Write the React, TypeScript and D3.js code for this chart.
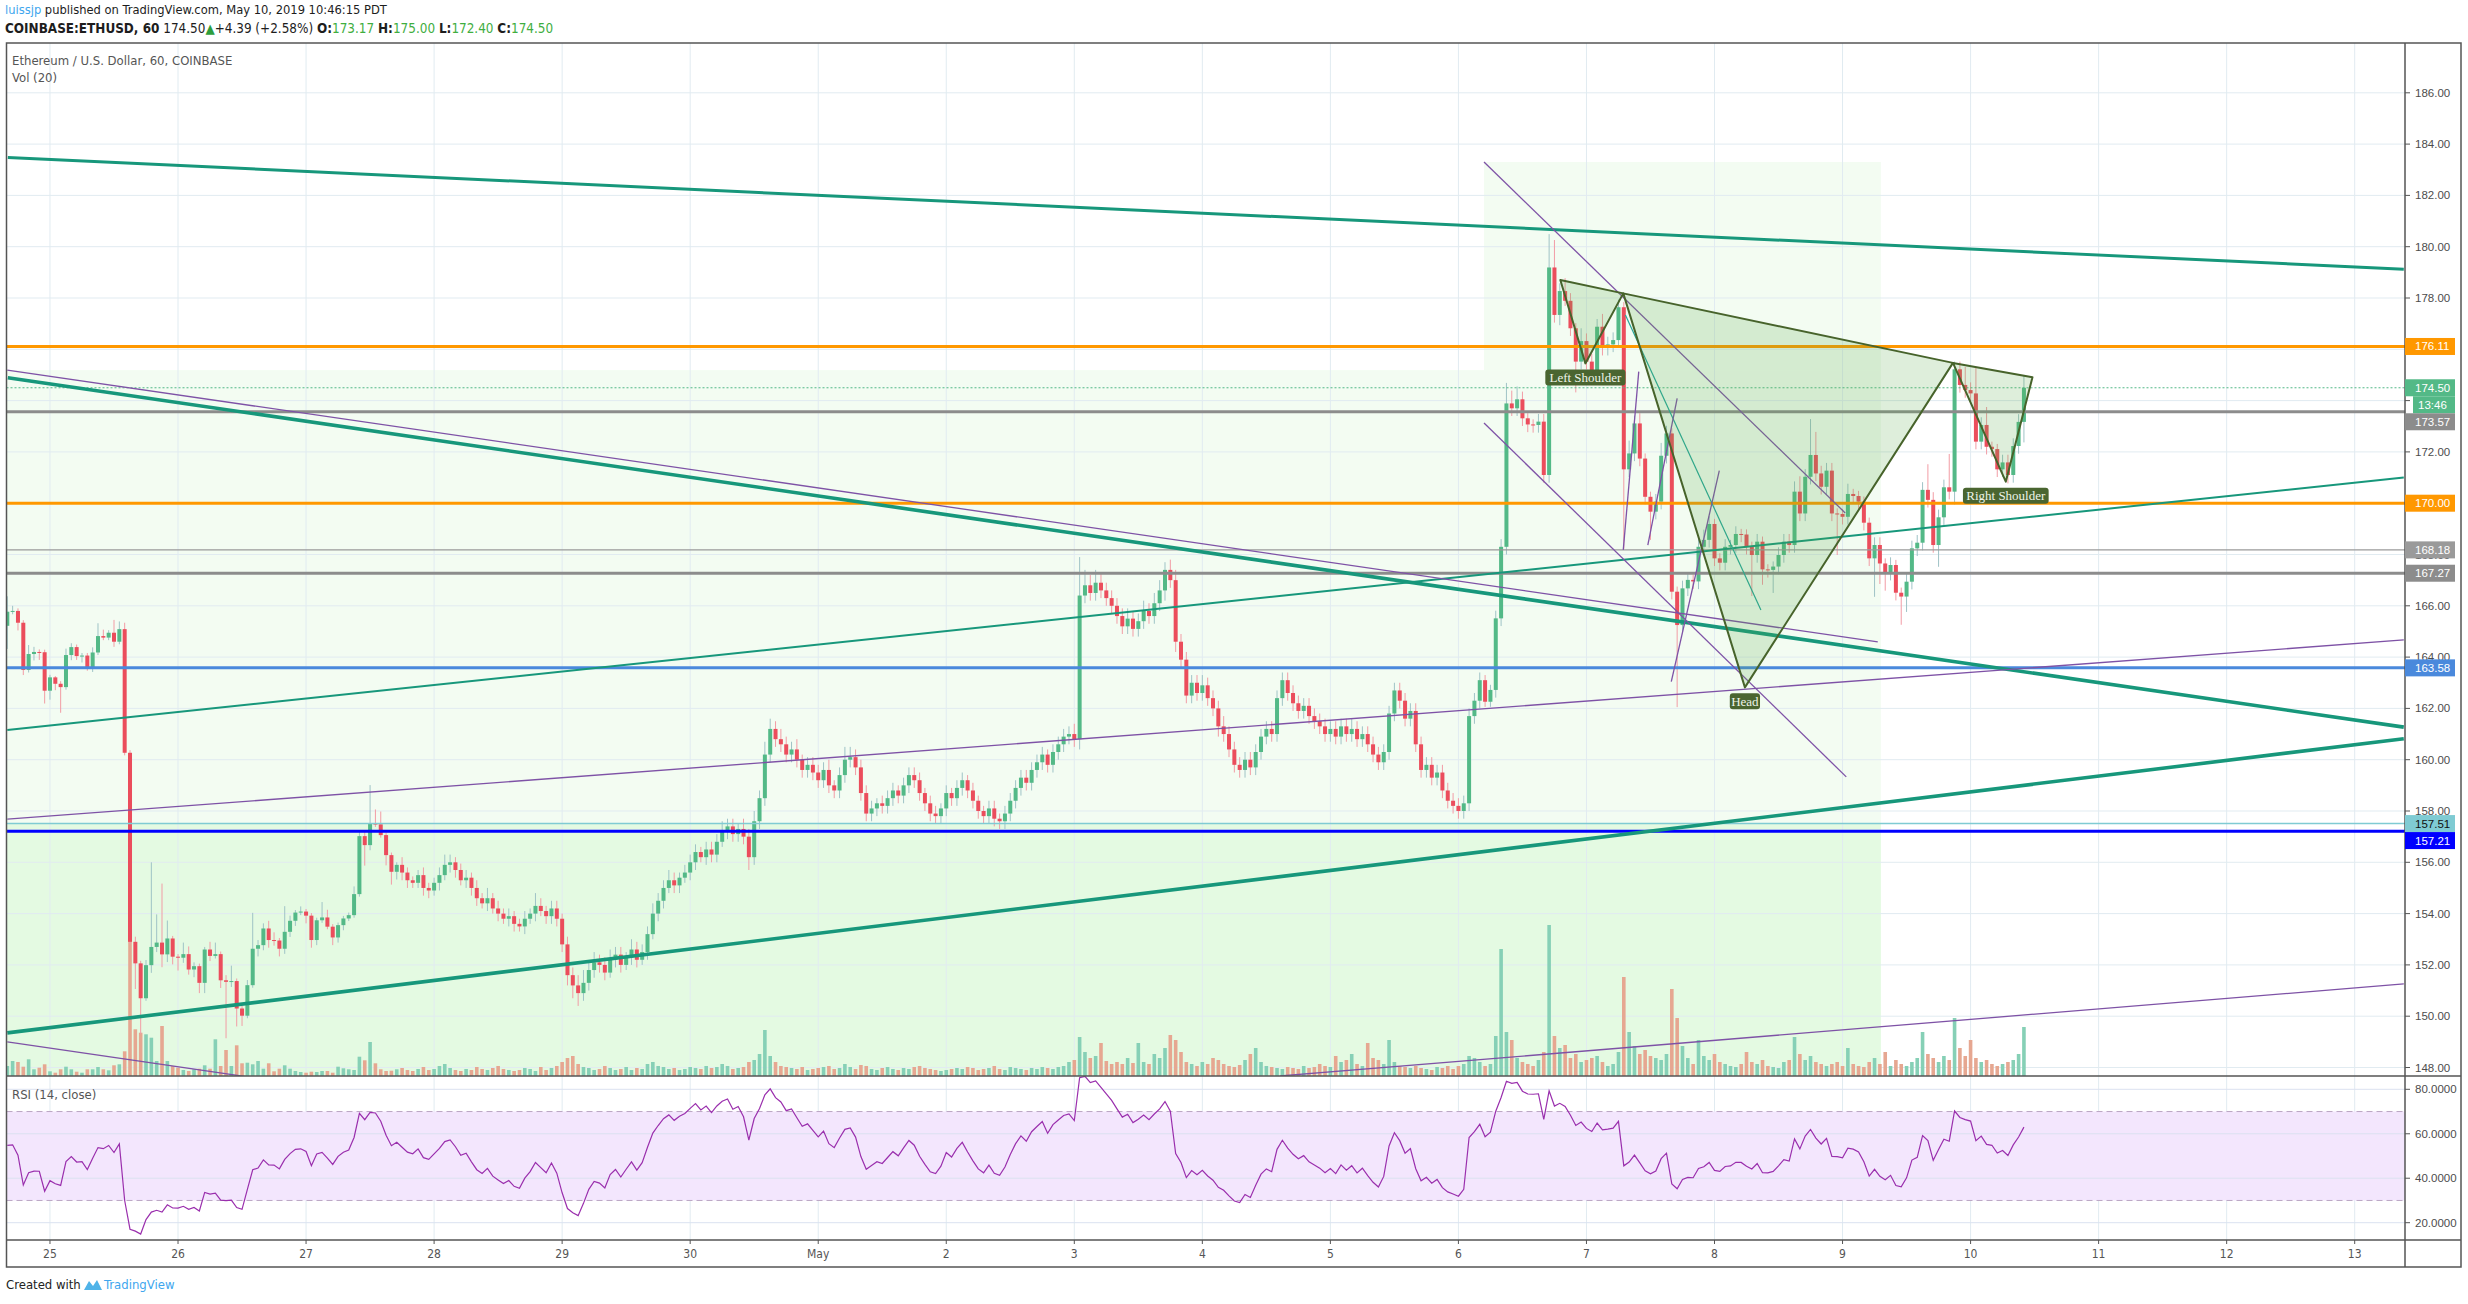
import React from 'react';
import * as d3 from 'd3';

// ---------------- DATA ----------------
// hourly candles, first candle = Apr 24 16:00 (index 0)
const firstOpen = 165.22;
const closes = [
  165.77,165.80,165.34,163.50,164.12,164.20,164.19,162.69,
  163.21,162.96,162.83,164.08,164.39,164.04,164.06,163.57,
  164.18,164.82,164.76,164.95,164.60,165.09,160.27,152.90,
  152.06,150.70,151.99,152.70,152.87,152.41,153.03,152.32,
  152.28,152.42,151.82,151.95,151.30,152.60,152.35,152.42,
  151.40,151.34,151.37,150.30,150.02,151.21,152.63,152.77,
  153.42,152.97,152.95,152.63,153.29,153.72,154.04,154.08,
  153.92,152.97,153.74,153.85,153.49,153.07,153.55,153.81,
  153.94,154.76,157.02,156.67,157.51,157.48,157.06,156.28,
  155.63,155.90,155.6,155.3,155.2,155.5,155.0,154.9,
  155.2,155.5,155.9,156.0,155.7,155.3,155.4,155.0,
  154.6,154.4,154.6,154.2,154.0,153.8,153.9,153.6,
  153.5,153.8,154.0,154.3,154.1,153.9,154.2,153.8,
  152.8,151.6,151.2,150.9,151.3,151.8,152.1,152.0,
  151.7,152.2,152.4,152.0,152.3,152.6,152.2,152.5,
  153.2,154.0,154.5,155.0,155.3,155.1,155.4,155.6,
  156.0,156.4,156.2,156.5,156.3,156.8,157.2,157.4,
  157.1,157.3,157.0,156.2,157.6,158.5,160.2,161.2,
  160.8,160.6,160.2,160.4,160.0,159.6,159.8,159.5,
  159.2,159.6,159.0,158.8,159.4,160.0,160.1,159.7,
  158.7,157.9,158.1,158.3,158.2,158.5,158.8,158.6,
  159.0,159.4,159.2,158.7,158.3,157.9,157.8,158.1,
  158.7,158.5,158.9,159.2,158.8,158.4,158.0,157.8,
  158.1,157.7,157.6,157.9,158.4,158.9,159.3,159.1,
  159.6,159.9,160.2,159.8,160.3,160.6,160.9,161.0,
  160.8,166.4,166.8,166.5,166.9,166.6,166.3,166.0,
  165.6,165.2,165.5,165.1,165.4,165.8,165.6,166.1,
  166.6,167.4,167.0,164.6,163.9,162.5,163.0,162.6,
  162.9,162.4,162.0,161.3,161.0,160.4,159.8,159.6,
  160.0,159.7,160.3,160.9,161.2,161.0,162.4,163.1,
  162.6,162.2,161.9,162.1,161.7,161.5,161.3,161.0,
  161.2,160.9,161.3,161.0,161.2,160.8,161.0,160.6,
  160.2,159.9,160.3,161.8,162.7,162.3,161.6,161.9,
  160.6,159.6,159.8,159.3,159.5,158.8,158.4,158.2,
  158.0,158.3,161.7,162.3,163.1,162.26,162.72,165.51,
  168.30,173.89,173.70,174.05,173.31,173.07,173.05,173.18,
  171.10,179.19,177.34,178.27,177.89,176.82,175.52,176.32,
  175.52,175.13,176.88,176.06,176.19,176.36,177.64,171.32,
  171.94,173.11,171.74,170.25,169.67,170.06,171.85,172.72,
  166.55,165.25,166.68,167.01,166.95,168.30,168.57,169.19,
  167.85,167.68,168.30,168.37,168.80,168.78,168.30,167.98,
  168.50,167.42,167.40,167.53,167.98,168.50,168.37,170.45,
  169.60,171.03,171.88,171.16,170.64,171.27,169.60,169.58,
  169.47,170.36,170.28,170.06,169.24,167.85,168.37,167.65,
  167.29,167.59,166.51,166.36,166.94,168.24,168.46,170.52,
  170.13,168.37,169.45,170.62,170.45,175.22,174.61,174.41,
  174.28,172.40,173.05,172.20,172.11,171.32,171.59,171.10,
  172.23,173.17,174.50,
];
const wickUp = [
  0.6,0.2,0.1,0.1,0.35,0.2,0.1,0.1,
  0.1,0.05,0.1,0.25,0.15,0.1,0.1,0.1,
  0.2,0.5,0.25,0.1,0.5,0.3,0.25,0.1,
  0.2,0.1,0.2,3.3,1.1,2.3,0.7,0.1,
  0.1,0.45,0.3,0.15,0.1,0.1,0.3,0.45,
  0.1,0.2,0.6,0.1,0.1,0.2,1.4,0.2,
  0.2,0.3,0.3,0.1,1.0,0.2,0.1,0.2,
  0.1,0.1,0.1,0.6,0.3,0.1,0.1,0.1,
  0.1,0.3,0.2,0.2,1.5,0.55,0.5,0.1,
  0.1,0.1,0.3,0.2,0.15,0.2,0.3,0.2,
  0.2,0.3,0.4,0.3,0.2,0.25,0.3,0.2,
  0.3,0.2,0.4,0.2,0.3,0.2,0.3,0.2,
  0.2,0.3,0.2,0.5,0.3,0.2,0.3,0.3,
  0.2,0.3,0.3,0.4,0.5,0.3,0.4,0.3,
  0.3,0.4,0.3,0.3,0.2,0.4,0.3,0.3,
  0.3,0.4,0.3,0.3,0.4,0.3,0.2,0.3,
  0.3,0.3,0.2,0.3,0.3,0.3,0.4,0.3,
  0.3,0.2,0.4,0.3,0.4,0.3,0.5,0.4,
  0.3,0.4,0.3,0.3,0.4,0.2,0.3,0.3,
  0.3,0.3,0.4,0.2,0.3,0.5,0.4,0.3,
  0.3,0.3,0.3,0.2,0.3,0.3,0.3,0.2,
  0.3,0.3,0.3,0.3,0.2,0.3,0.3,0.2,
  0.3,0.2,0.3,0.3,0.2,0.3,0.2,0.2,
  0.3,0.3,0.2,0.3,0.3,0.3,0.3,0.3,
  0.3,0.3,0.3,0.2,0.3,0.3,0.3,0.3,
  0.4,1.5,0.6,0.4,0.5,0.4,0.3,0.3,
  0.3,0.3,0.4,0.3,0.3,0.4,0.3,0.4,
  0.4,0.3,0.4,0.4,0.3,0.3,0.3,0.3,
  0.4,0.3,0.3,0.3,0.4,0.3,0.3,0.3,
  0.3,0.3,0.3,0.3,0.3,0.3,0.3,0.3,
  0.3,0.3,0.3,0.3,0.3,0.3,0.3,0.3,
  0.3,0.3,0.3,0.3,0.4,0.3,0.3,0.3,
  0.3,0.3,0.3,0.3,0.3,0.3,0.3,0.3,
  0.3,0.3,0.3,0.3,0.3,0.3,0.3,0.3,
  0.3,0.3,0.3,0.3,0.3,0.2,0.2,0.3,
  0.3,0.8,0.5,0.5,0.3,0.2,0.2,0.3,
  0.3,1.3,1.07,0.3,0.5,0.3,0.2,0.5,
  0.3,0.3,0.3,0.5,0.3,0.3,0.3,0.2,
  0.5,0.3,0.4,0.2,0.2,0.3,0.5,0.3,
  0.2,0.2,0.3,0.3,0.2,0.3,0.4,0.3,
  0.2,0.2,0.3,0.2,0.3,0.2,0.2,0.2,
  0.3,0.2,0.2,0.2,0.3,0.3,0.3,0.4,
  0.6,0.3,1.4,0.9,0.3,0.3,0.3,0.2,
  0.2,0.4,0.2,0.2,0.2,0.2,0.3,0.3,
  0.2,0.3,0.2,0.2,0.3,0.3,0.3,0.3,
  1.0,0.3,0.3,0.3,1.3,0.3,0.3,0.7,
  0.3,1.0,0.3,0.7,0.2,0.2,0.3,0.3,
  0.3,0.3,0.5,
];
const wickDn = [
  0.9,0.1,0.3,0.2,0.1,0.25,0.3,0.5,
  0.35,0.25,1.0,0.1,0.2,0.15,0.25,0.1,
  0.15,0.1,0.1,0.1,0.2,0.1,0.1,0.1,
  1.0,1.4,0.1,0.3,0.2,0.5,0.3,0.3,
  0.5,0.2,0.2,0.3,0.4,0.4,0.2,0.1,
  0.3,2.2,0.2,0.7,0.4,0.1,0.1,0.3,
  0.2,0.3,0.2,0.3,0.2,0.2,0.2,0.1,
  0.3,0.3,0.2,0.1,0.1,0.3,0.2,0.2,
  0.1,0.1,0.1,0.8,0.2,0.1,0.1,0.4,
  0.5,0.3,0.3,0.3,0.2,0.2,0.3,0.3,
  0.2,0.3,0.2,0.3,0.3,0.2,0.3,0.3,
  0.3,0.2,0.3,0.2,0.3,0.2,0.3,0.3,
  0.2,0.3,0.2,0.3,0.2,0.3,0.3,0.3,
  0.3,0.4,0.5,0.5,0.3,0.3,0.3,0.3,
  0.3,0.2,0.3,0.3,0.2,0.3,0.3,0.2,
  0.3,0.2,0.3,0.3,0.2,0.3,0.3,0.2,
  0.3,0.3,0.2,0.3,0.3,0.3,0.2,0.3,
  0.3,0.3,0.3,0.5,0.3,0.3,0.3,0.3,
  0.3,0.3,0.3,0.3,0.3,0.3,0.3,0.3,
  0.3,0.3,0.3,0.3,0.3,0.3,0.3,0.3,
  0.3,0.3,0.3,0.3,0.3,0.3,0.3,0.3,
  0.3,0.3,0.3,0.3,0.3,0.3,0.3,0.3,
  0.3,0.3,0.3,0.3,0.3,0.3,0.3,0.3,
  0.3,0.3,0.3,0.3,0.3,0.3,0.3,0.3,
  0.3,0.3,0.3,0.3,0.3,0.3,0.3,0.3,
  0.3,0.4,0.3,0.3,0.3,0.3,0.3,0.3,
  0.3,0.3,0.3,0.3,0.3,0.3,0.3,0.3,
  0.3,0.4,0.3,0.4,0.3,0.3,0.3,0.3,
  0.3,0.3,0.3,0.4,0.3,0.3,0.3,0.3,
  0.3,0.3,0.3,0.3,0.3,0.3,0.3,0.3,
  0.3,0.3,0.3,0.3,0.3,0.3,0.3,0.3,
  0.3,0.3,0.3,0.3,0.3,0.3,0.3,0.3,
  0.3,0.3,0.3,0.3,0.3,0.3,0.3,0.3,
  0.3,0.3,0.3,0.3,0.3,0.3,0.3,0.3,
  0.3,0.3,0.3,0.3,0.3,0.2,0.2,0.3,
  0.3,0.3,0.3,0.3,0.3,0.3,0.3,0.3,
  0.3,0.3,0.3,0.4,0.2,0.3,1.2,0.3,
  0.3,0.3,0.3,0.3,0.3,0.3,0.3,3.1,
  0.3,0.3,0.3,0.3,1.1,0.3,0.3,0.3,
  0.3,3.2,0.3,0.3,0.3,0.3,0.3,0.3,
  0.3,0.3,0.3,0.3,0.3,0.3,0.3,1.6,
  0.3,0.6,0.3,0.9,0.3,0.3,0.3,0.3,
  0.3,0.3,0.3,0.3,0.3,0.3,0.3,1.6,
  0.3,0.3,0.3,0.3,0.3,0.3,1.5,0.8,
  0.7,0.3,0.3,1.1,0.6,0.3,0.3,0.3,
  0.3,0.3,0.85,0.3,0.3,0.5,0.3,0.3,
  0.3,0.3,0.3,0.3,0.3,0.3,0.3,0.33,
  0.3,0.3,0.8,
];
const volumes = [
  10,15,14,9.3,16.7,6.7,8.3,11.7,
  4.7,3.3,6.7,9.3,6.7,4.3,3.3,6.7,
  6.7,9,6.7,5.7,10.7,11.7,24.7,135,
  46.7,43.3,41.7,38.3,15,50,15,10,
  8.3,6,5,6.7,7.3,10.7,7.3,36.7,
  10,26,10,30.7,12.7,13.3,11.7,15,
  7.3,12.7,4.7,7.3,10.7,7.3,5,4,
  3.3,4.3,4,5,5,3.3,9.3,7.7,
  6.7,6,19.3,15.7,34,12.7,6.7,5,
  5.3,6.7,8,6,5,7,9,6,
  7,10,12,8,6,5,7,6,
  9,7,6,8,10,7,6,5,
  6,8,7,5,9,6,8,10,
  14,18,20,12,9,8,6,7,
  10,8,6,7,9,6,8,7,
  12,14,10,9,7,8,6,7,
  9,8,7,10,8,9,12,10,
  7,8,9,14,16,22,46,20,
  14,10,9,8,7,9,6,7,
  8,9,10,7,8,12,9,7,
  11,10,7,6,8,9,7,6,
  8,7,9,10,8,7,6,5,
  6,7,8,7,9,8,6,7,
  8,10,7,6,9,8,7,6,
  8,7,9,8,7,9,10,14,
  16,39,24,18,20,33,15,12,
  14,12,18,13,33,14,12,22,
  18,28,41,36,24,14,12,10,
  14,12,18,16,12,10,9,11,
  16,22,28,14,10,9,8,7,
  9,8,7,10,8,9,12,10,
  9,20,14,16,22,12,10,33,
  18,16,12,36,14,10,9,8,
  10,8,7,6,9,8,10,7,
  10,12,20,18,14,10,12,40,
  127,44,36,18,14,12,10,16,
  24,151,40,28,31,18,22,14,
  16,18,20,14,10,12,24,99,
  44,30,22,26,20,18,16,22,
  87,58,30,18,12,36,20,16,
  22,14,12,10,9,12,24,14,
  12,16,10,9,8,14,16,39,
  22,16,20,14,12,10,12,14,
  10,28,12,10,9,14,18,12,
  24,10,16,12,10,14,18,44,
  22,18,14,20,16,58,28,20,
  36,18,14,16,12,10,12,14,
  16,22,49,
];

const dayLabels = ['25','26','27','28','29','30','May','2','3','4','5','6','7','8','9','10','11','12','13'];
const firstDayIndex = 8; // Apr 25 00:00
const priceTicks = [148,150,152,154,156,158,160,162,164,166,168,170,172,174,176,178,180,182,184,186];
const rsiTicks = [20,40,60,80];
const rsiBand = [30,70];
const levelPrices = [176.11,173.57,170.00,168.18,167.27,163.58,157.51,157.21];
const lastPrice = 174.50;
const countdownText = '13:46';

// trend lines: [index1, price1, index2, price2]
const tealThick = [
  [0.1,183.48,449.2,179.12],
  [0.1,174.89,449.2,161.27],
  [0,149.35,449.2,160.82],
];
const tealMedium = [[0,161.16,449.2,171.0]];
const tealThin = [[303.3,177.34,328.7,165.84]];
const purpleLines = [
  [0,175.19,350.6,164.59],
  [0,157.68,449.2,164.67],
  [0,149.0,60,147.18],
  [238.6,147.67,449.2,151.26],
  [276.8,183.30,344.5,169.62],
  [276.8,173.13,344.7,159.33],
  [302.9,168.18,305.8,175.13],
  [307.5,168.37,313.0,174.09],
  [311.9,163.04,320.9,171.27],
];
// head & shoulders pattern points [index, price]
const hsPoints = [[291.1,178.70],[295.8,175.45],[302.9,178.18],[325.7,162.82],[364.7,175.47],[374.6,170.84],[379.6,174.91]];
const hsLabels = ['Left Shoulder','Head','Right Shoulder'];
const hsLabelAt = [1,3,5];
// light background zones [index1, price1, index2, price2]
const zones = [
  [-2,175.19,351.2,147.6],
  [276.8,183.3,351.2,175.19],
  [-2,157.51,351.2,147.6],
];

// ---------------- STYLE / LAYOUT ----------------
const L = 6.5, R = 2405, T = 43, PB = 1076, RB = 1240, XB = 1267, FR = 2461;
const levelStyle = [
  { c: '#ff9800', w: 3, tc: '#fff' },
  { c: '#8c8c8c', w: 3, tc: '#fff' },
  { c: '#ff9800', w: 3, tc: '#fff' },
  { c: '#9a9a9a', w: 1.3, tc: '#fff' },
  { c: '#8c8c8c', w: 3, tc: '#fff' },
  { c: '#4a89dc', w: 3, tc: '#fff' },
  { c: '#7fcbd3', w: 1.5, tc: '#111' },
  { c: '#0000ff', w: 3, tc: '#fff' },
];
const UP = '#53b987', DN = '#eb4d5c';
const AXF = '"Liberation Sans", Arial, sans-serif';
const NARROW = '"Liberation Sans Narrow", "DejaVu Sans Condensed", "Roboto Condensed", sans-serif';

export default function App() {
  const x = d3.scaleLinear().domain([0, 440]).range([7.3, 2354.7]);
  const y = d3.scaleLinear().domain([148, 186]).range([1067.5, 92.8]);
  const ry = d3.scaleLinear().domain([20, 80]).range([1222.7, 1089.3]);
  const vmax = d3.max(volumes) as number;
  const vh = d3.scaleLinear().domain([0, vmax]).range([0, 151]);
  const candles = closes.map((c, i) => {
    const o = i === 0 ? firstOpen : closes[i - 1];
    return { i, o, c, h: Math.max(o, c) + (wickUp[i] ?? 0.2), l: Math.min(o, c) - (wickDn[i] ?? 0.2), v: volumes[i] ?? 0 };
  });
  // RSI 14 (Wilder)
  const rsi: number[] = [];
  let ag = 0.2, al = 0.2;
  candles.forEach((d) => {
    const ch = d.c - d.o;
    ag = (ag * 13 + Math.max(ch, 0)) / 14;
    al = (al * 13 + Math.max(-ch, 0)) / 14;
    rsi.push(100 - 100 / (1 + ag / al));
  });
  const rsiLine = d3.line<number>().x((_, i) => x(i)).y((v) => ry(v))(rsi) || '';
  const dayIdx = dayLabels.map((_, k) => firstDayIndex + 24 * k);
  const bw = 4;

  type Lab = { p: number; text: string; bg: string; tc: string; h: number };
  const labs: Lab[] = levelPrices.map((p, k) => ({ p, text: p.toFixed(2), bg: levelStyle[k].c, tc: levelStyle[k].tc, h: 17 }));
  labs.push({ p: lastPrice, text: lastPrice.toFixed(2), bg: UP, tc: '#fff', h: 17 });
  labs.sort((a, b) => y(a.p) - y(b.p));
  const placed: { top: number; lab: Lab }[] = [];
  let prevBottom = -1e9;
  labs.forEach((lab) => {
    let top = y(lab.p) - lab.h / 2;
    if (top < prevBottom) top = prevBottom;
    placed.push({ top, lab });
    prevBottom = top + lab.h;
    if (lab.p === lastPrice) prevBottom += 17;
  });

  const seg = (a: number[], k: number, stroke: string, w: number) => (
    <line key={k} x1={x(a[0])} y1={y(a[1])} x2={x(a[2])} y2={y(a[3])} stroke={stroke} strokeWidth={w} />
  );
  const hp = hsPoints.map(([i, p]) => [x(i), y(p)]);
  const tri = (ids: number[]) => ids.map((k) => hp[k].join(',')).join(' ');

  return (
    <svg width={2468} height={1304} style={{ position: 'absolute', left: 0, top: 0, background: '#fff' }} xmlns="http://www.w3.org/2000/svg">
      <defs>
        <clipPath id="pc"><rect x={L} y={T} width={R - L} height={PB - T} /></clipPath>
        <clipPath id="rc"><rect x={L} y={PB} width={R - L} height={RB - PB} /></clipPath>
      </defs>
      <rect x={0} y={0} width={2468} height={1304} fill="#fff" />
      {/* header */}
      <text x={5} y={14} fontFamily={NARROW} fontSize={12.8} fill="#1d1d1d">
        <tspan fill="#3ea6ee">luissjp</tspan> published on TradingView.com, May 10, 2019 10:46:15 PDT
      </text>
      <text x={5} y={33} fontFamily={NARROW} fontSize={13.4} fill="#1d1d1d">
        <tspan fontWeight="bold">COINBASE:ETHUSD, 60</tspan> 174.50<tspan fill="#2e9d3c">▲</tspan>+4.39 (+2.58%) <tspan fontWeight="bold">O:</tspan><tspan fill="#3fae3f">173.17</tspan> <tspan fontWeight="bold">H:</tspan><tspan fill="#3fae3f">175.00</tspan> <tspan fontWeight="bold">L:</tspan><tspan fill="#3fae3f">172.40</tspan> <tspan fontWeight="bold">C:</tspan><tspan fill="#3fae3f">174.50</tspan>
      </text>

      {/* price pane */}
      <g clipPath="url(#pc)">
        {zones.map((z, k) => (
          <rect key={k} x={x(z[0])} y={y(z[1])} width={x(z[2]) - x(z[0])} height={y(z[3]) - y(z[1])}
            fill={k === 2 ? 'rgba(190,245,185,0.28)' : 'rgba(200,240,195,0.22)'} />
        ))}
        {dayIdx.map((d, k) => <line key={k} x1={x(d)} x2={x(d)} y1={T} y2={PB} stroke="#e1ebf1" strokeWidth={1} />)}
        {priceTicks.map((p) => <line key={p} x1={L} x2={R} y1={y(p)} y2={y(p)} stroke="#e1ebf1" strokeWidth={1} />)}
        {candles.map((d) => (
          <rect key={'v' + d.i} x={x(d.i) - 1.8} y={PB - vh(d.v)} width={3.6} height={vh(d.v)} fill={d.c >= d.o ? '#86d0b6' : '#e6a791'} />
        ))}
        {candles.map((d) => {
          const up = d.c >= d.o;
          const top = y(Math.max(d.o, d.c));
          const bh = Math.max(1, y(Math.min(d.o, d.c)) - top);
          return (
            <g key={'c' + d.i}>
              <line x1={x(d.i)} x2={x(d.i)} y1={y(d.h)} y2={y(d.l)} stroke={up ? '#9fc3c6' : '#f29ca5'} strokeWidth={1} />
              <rect x={x(d.i) - bw / 2} y={top} width={bw} height={bh} fill={up ? UP : DN} />
            </g>
          );
        })}
        {levelPrices.map((p, k) => (
          <line key={'lv' + k} x1={L} x2={R} y1={y(p)} y2={y(p)} stroke={levelStyle[k].c} strokeWidth={levelStyle[k].w} />
        ))}
        <line x1={L} x2={R} y1={y(lastPrice)} y2={y(lastPrice)} stroke={UP} strokeWidth={1} strokeDasharray="2,2" />
        {tealThick.map((a, k) => seg(a, k, '#17977b', k === 0 ? 3 : 3.6))}
        {tealMedium.map((a, k) => seg(a, k + 10, '#17977b', 2))}
        {tealThin.map((a, k) => seg(a, k + 20, '#26a69a', 1.2))}
        {purpleLines.map((a, k) => seg(a, k + 30, '#7e52a6', 1.3))}
        <polygon points={tri([0, 1, 2])} fill="rgba(90,170,75,0.2)" stroke="#47632b" strokeWidth={2} strokeLinejoin="round" />
        <polygon points={tri([2, 3, 4])} fill="rgba(90,170,75,0.2)" stroke="#47632b" strokeWidth={2} strokeLinejoin="round" />
        <polygon points={tri([4, 5, 6])} fill="rgba(90,170,75,0.2)" stroke="#47632b" strokeWidth={2} strokeLinejoin="round" />
        {hsLabels.map((t, k) => {
          const [px, py] = hp[hsLabelAt[k]];
          const w = t.length * 5.55 + 8;
          return (
            <g key={t}>
              <rect x={px - w / 2} y={py + 6} width={w} height={16} rx={3} fill="#4a6530" />
              <text x={px} y={py + 18.5} textAnchor="middle" fontFamily='"Liberation Serif", "DejaVu Serif", serif' fontSize={13} fill="#eef4e8">{t}</text>
            </g>
          );
        })}
      </g>
      <text x={12} y={65} fontFamily={NARROW} fontSize={13} fill="#555">Ethereum / U.S. Dollar, 60, COINBASE</text>
      <text x={12} y={82} fontFamily={NARROW} fontSize={13} fill="#555">Vol (20)</text>

      {/* RSI pane */}
      <g clipPath="url(#rc)">
        {dayIdx.map((d, k) => <line key={k} x1={x(d)} x2={x(d)} y1={PB} y2={RB} stroke="#e1ebf1" strokeWidth={1} />)}
        <rect x={L} y={ry(rsiBand[1])} width={R - L} height={ry(rsiBand[0]) - ry(rsiBand[1])} fill="#f3e6fd" />
        {rsiTicks.map((r) => <line key={r} x1={L} x2={R} y1={ry(r)} y2={ry(r)} stroke="#dbe2f0" strokeWidth={1} />)}
        {rsiBand.map((r) => <line key={'b' + r} x1={L} x2={R} y1={ry(r)} y2={ry(r)} stroke="#bba6c4" strokeWidth={1} strokeDasharray="6,4" />)}
        <path d={rsiLine} fill="none" stroke="#9a2fad" strokeWidth={1.2} />
      </g>
      <text x={12} y={1099} fontFamily={NARROW} fontSize={13} fill="#555">RSI (14, close)</text>

      {/* frame */}
      <rect x={L} y={T} width={FR - L} height={XB - T} fill="none" stroke="#555" strokeWidth={1.5} />
      <line x1={R} x2={R} y1={T} y2={XB} stroke="#555" strokeWidth={1.5} />
      <line x1={L} x2={FR} y1={PB} y2={PB} stroke="#555" strokeWidth={1.5} />
      <line x1={L} x2={FR} y1={RB} y2={RB} stroke="#555" strokeWidth={1.5} />

      {/* price axis */}
      {priceTicks.map((p) => (
        <g key={'pt' + p}>
          <line x1={R} x2={R + 5} y1={y(p)} y2={y(p)} stroke="#555" />
          <text x={R + 10} y={y(p) + 4} fontFamily={AXF} fontSize={11.5} fill="#4d4d4d">{p.toFixed(2)}</text>
        </g>
      ))}
      {rsiTicks.map((r) => (
        <g key={'rt' + r}>
          <line x1={R} x2={R + 5} y1={ry(r)} y2={ry(r)} stroke="#555" />
          <text x={R + 10} y={ry(r) + 4} fontFamily={AXF} fontSize={11.5} fill="#4d4d4d">{r.toFixed(4)}</text>
        </g>
      ))}
      {placed.map(({ top, lab }) => (
        <g key={'lab' + lab.text}>
          <rect x={R} y={top} width={50} height={lab.h} fill={lab.bg} />
          <text x={R + 10} y={top + 12.5} fontFamily={AXF} fontSize={11.5} fill={lab.tc}>{lab.text}</text>
          {lab.p === lastPrice && (
            <g>
              <rect x={R + 8} y={top + lab.h} width={42} height={17} fill={UP} />
              <text x={R + 13} y={top + lab.h + 12.5} fontFamily={AXF} fontSize={11.5} fill="#fff">{countdownText}</text>
            </g>
          )}
        </g>
      ))}

      {/* time axis */}
      {dayIdx.map((d, k) => (
        <g key={'xt' + k}>
          <line x1={x(d)} x2={x(d)} y1={RB} y2={RB + 4} stroke="#555" />
          <text x={x(d)} y={1258} textAnchor="middle" fontFamily={NARROW} fontSize={12} fill="#555">{dayLabels[k]}</text>
        </g>
      ))}

      {/* footer */}
      <text x={6} y={1289} fontFamily={NARROW} fontSize={13} fill="#222">Created with</text>
      <path d="M84,1290 L89,1281 L93,1286 L97,1280 L102,1290 Z" fill="#4fb3e8" />
      <text x={104} y={1289} fontFamily={NARROW} fontSize={13} fill="#3ea6ee">TradingView</text>
    </svg>
  );
}
